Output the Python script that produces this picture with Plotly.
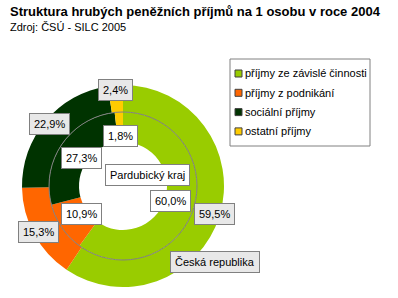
import math
import plotly.graph_objects as go

W, H = 398, 298

categories = ["příjmy ze závislé činnosti", "příjmy z podnikání", "sociální příjmy", "ostatní příjmy"]
cr_values = [59.5, 15.3, 22.9, 2.4]      # Česká republika (outer ring)
pk_values = [60.0, 10.9, 27.3, 1.8]      # Pardubický kraj (inner ring)
colors = ["#99CC00", "#FF6600", "#003300", "#FFCC00"]
title = "Struktura hrubých peněžních příjmů na 1 osobu v roce 2004"
subtitle = "Zdroj: ČSÚ - SILC 2005"
ring_names = ["Česká republika", "Pardubický kraj"]

FONT = "Liberation Sans, Arial, sans-serif"

# geometry in px
cx, cy = 123, 186
r_out, r_mid, r_in = 101, 74, 44


def px(x):
    return x / W


def py(y):
    return 1 - y / H


def dom(r):
    return dict(x=[px(cx - r), px(cx + r)], y=[py(cy + r), py(cy - r)])


fig = go.Figure()
fig.add_trace(go.Pie(
    values=cr_values, labels=categories, sort=False, direction="clockwise",
    rotation=0, hole=r_mid / r_out, domain=dom(r_out),
    marker=dict(colors=colors, line=dict(width=0)), textinfo="none",
    hoverinfo="skip", name=ring_names[0], showlegend=False))
fig.add_trace(go.Pie(
    values=pk_values, labels=categories, sort=False, direction="clockwise",
    rotation=0, hole=r_in / r_mid, domain=dom(r_mid),
    marker=dict(colors=colors, line=dict(width=0)), textinfo="none",
    hoverinfo="skip", name=ring_names[1], showlegend=False))

shapes = []
# separator circle between rings
shapes.append(dict(type="circle", xref="paper", yref="paper",
                   x0=px(cx - r_mid), x1=px(cx + r_mid), y0=py(cy + r_mid), y1=py(cy - r_mid),
                   line=dict(color="#808080", width=1), fillcolor="rgba(0,0,0,0)"))


def fmt(v):
    return f"{v:.1f}".replace(".", ",") + "%"


def label_positions(values, r):
    tot = sum(values)
    cum = 0
    out = []
    for v in values:
        f = (cum + v / 2) / tot
        th = 2 * math.pi * f
        out.append((cx + r * math.sin(th), cy - r * math.cos(th)))
        cum += v
    return out


ann = []
for v, (x, y) in zip(cr_values, label_positions(cr_values, 96)):
    ann.append(dict(x=px(x), y=py(y), text=fmt(v), bgcolor="#E8E8E8"))
for v, (x, y) in zip(pk_values, label_positions(pk_values, 50)):
    ann.append(dict(x=px(x), y=py(y), text=fmt(v), bgcolor="#FFFFFF"))
ann.append(dict(x=px(147), y=py(175), text=ring_names[1], bgcolor="#FFFFFF"))
ann.append(dict(x=px(215), y=py(262), text=ring_names[0], bgcolor="#E8E8E8"))

annotations = []
for a in ann:
    a.update(xref="paper", yref="paper", showarrow=False, bordercolor="#808080",
             borderwidth=1, borderpad=4, font=dict(family=FONT, size=11, color="black"),
             xanchor="center", yanchor="middle")
    annotations.append(a)

annotations.append(dict(x=px(8), y=py(12), xref="paper", yref="paper", showarrow=False,
                        text="<b>" + title + "</b>", xanchor="left", yanchor="middle",
                        font=dict(family=FONT, size=13, color="black")))
annotations.append(dict(x=px(8), y=py(27), xref="paper", yref="paper", showarrow=False,
                        text=subtitle, xanchor="left", yanchor="middle",
                        font=dict(family=FONT, size=11, color="black")))

# legend box (manual, to match compact symbol layout)
lx0, lx1, ly0, ly1 = 230, 370, 59, 146
shapes.append(dict(type="rect", xref="paper", yref="paper",
                   x0=px(lx0), x1=px(lx1), y0=py(ly1), y1=py(ly0),
                   line=dict(color="#808080", width=1), fillcolor="white"))
for i, (cat, col) in enumerate(zip(categories, colors)):
    yc = 73.5 + i * 19.3
    shapes.append(dict(type="rect", xref="paper", yref="paper",
                       x0=px(235), x1=px(242), y0=py(yc + 3.5), y1=py(yc - 3.5),
                       line=dict(color="#404040", width=1), fillcolor=col))
    annotations.append(dict(x=px(242.5), y=py(yc), xref="paper", yref="paper",
                            showarrow=False, text=cat, xanchor="left", yanchor="middle",
                            font=dict(family=FONT, size=11, color="black")))

fig.update_layout(
    width=W, height=H, margin=dict(l=0, r=0, t=0, b=0),
    paper_bgcolor="white", plot_bgcolor="white",
    annotations=annotations, shapes=shapes, showlegend=False,
)

fig.write_html("out.html")
